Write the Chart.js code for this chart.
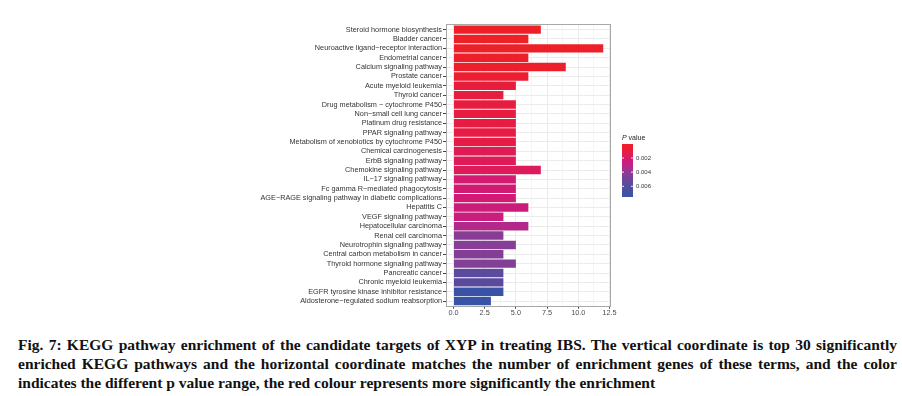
<!DOCTYPE html>
<html>
<head>
<meta charset="utf-8">
<script src="https://cdn.jsdelivr.net/npm/chart.js@4"></script>
<style>
  html, body { margin: 0; padding: 0; background: #fff; }
  body { width: 902px; height: 396px; position: relative; overflow: hidden; }
  #wrap { position: absolute; left: 0; top: 0; width: 902px; height: 325px; }
  #caption { position: absolute; left: 18px; top: 335px; width: 879px;
    font-family: "Liberation Serif", "Times New Roman", serif; font-weight: bold;
    font-size: 15.5px; line-height: 19px; color: #111; }
  #caption .j { text-align: justify; text-align-last: justify; white-space: nowrap; }
  #caption .l { text-align: left; white-space: nowrap; }
</style>
</head>
<body>
<div id="wrap"><canvas id="c" width="902" height="325"></canvas></div>
<div id="caption">
  <div class="j">Fig. 7: KEGG pathway enrichment of the candidate targets of XYP in treating IBS. The vertical coordinate is top 30 significantly</div>
  <div class="j">enriched KEGG pathways and the horizontal coordinate matches the number of enrichment genes of these terms, and the color</div>
  <div class="l">indicates the different p value range, the red colour represents more significantly the enrichment</div>
</div>
<script>
const categories = [
  "Steroid hormone biosynthesis",
  "Bladder cancer",
  "Neuroactive ligand\u2212receptor interaction",
  "Endometrial cancer",
  "Calcium signaling pathway",
  "Prostate cancer",
  "Acute myeloid leukemia",
  "Thyroid cancer",
  "Drug metabolism \u2212 cytochrome P450",
  "Non\u2212small cell lung cancer",
  "Platinum drug resistance",
  "PPAR signaling pathway",
  "Metabolism of xenobiotics by cytochrome P450",
  "Chemical carcinogenesis",
  "ErbB signaling pathway",
  "Chemokine signaling pathway",
  "IL\u221217 signaling pathway",
  "Fc gamma R\u2212mediated phagocytosis",
  "AGE\u2212RAGE signaling pathway in diabetic complications",
  "Hepatitis C",
  "VEGF signaling pathway",
  "Hepatocellular carcinoma",
  "Renal cell carcinoma",
  "Neurotrophin signaling pathway",
  "Central carbon metabolism in cancer",
  "Thyroid hormone signaling pathway",
  "Pancreatic cancer",
  "Chronic myeloid leukemia",
  "EGFR tyrosine kinase inhibitor resistance",
  "Aldosterone\u2212regulated sodium reabsorption"
];
const geneCounts = [7, 6, 12, 6, 9, 6, 5, 4, 5, 5, 5, 5, 5, 5, 5, 7, 5, 5, 5, 6, 4, 6, 4, 5, 4, 5, 4, 4, 4, 3];
const pValues = [0.00002, 0.00008, 0.00012, 0.00020, 0.00028, 0.00045, 0.00080, 0.00090, 0.00095, 0.00100,
                 0.00105, 0.00110, 0.00115, 0.00150, 0.00155, 0.00160, 0.00210, 0.00215, 0.00220, 0.00240,
                 0.00250, 0.00320, 0.00420, 0.00425, 0.00430, 0.00435, 0.00560, 0.00565, 0.00730, 0.00747];
const xTickValues = [0, 2.5, 5, 7.5, 10, 12.5];
const xTickLabels = ["0.0", "2.5", "5.0", "7.5", "10.0", "12.5"];
const xMinorValues = [1.25, 3.75, 6.25, 8.75, 11.25];
const legendTickValues = [0.002, 0.004, 0.006];
const legendTickLabels = ["0.002", "0.004", "0.006"];

const pMin = Math.min(...pValues), pMax = Math.max(...pValues);
const stops = [
  [0.00, [238, 32, 38]],
  [0.15, [230, 28, 69]],
  [0.30, [209, 26, 120]],
  [0.45, [174, 42, 142]],
  [0.57, [133, 62, 150]],
  [0.75, [91, 74, 157]],
  [1.00, [55, 83, 166]]
];
function colorAt(p) {
  let t = (p - pMin) / (pMax - pMin);
  t = Math.max(0, Math.min(1, t));
  for (let i = 1; i < stops.length; i++) {
    if (t <= stops[i][0]) {
      const [t0, c0] = stops[i - 1], [t1, c1] = stops[i];
      const f = (t - t0) / (t1 - t0);
      const c = c0.map((v, k) => Math.round(v + (c1[k] - v) * f));
      return `rgb(${c[0]},${c[1]},${c[2]})`;
    }
  }
  const c = stops[stops.length - 1][1];
  return `rgb(${c[0]},${c[1]},${c[2]})`;
}

const CANVAS_H = 325;
const AREA = { left: 446, right: 610.7, top: 24, bottom: 306.7 };
const tickFont = { family: "Liberation Sans, Arial, sans-serif", size: 7.3 };

const panelPlugin = {
  id: 'panel',
  afterDraw(chart) {
    const ctx = chart.ctx, a = chart.chartArea;
    ctx.save();
    ctx.strokeStyle = '#A8A8A8';
    ctx.lineWidth = 1;
    ctx.strokeRect(Math.round(a.left) + 0.5, Math.round(a.top) + 0.5,
                   Math.round(a.right - a.left) - 1, Math.round(a.bottom - a.top) - 1);
    // colorbar legend
    const bx = 622, bw = 11, by = 144, bh = 52.7;
    ctx.font = 'italic 7px "Liberation Sans", Arial, sans-serif';
    ctx.fillStyle = '#222';
    ctx.textBaseline = 'alphabetic';
    ctx.textAlign = 'left';
    ctx.fillText('P', bx, 139.5);
    const pw = ctx.measureText('P').width;
    ctx.font = '7px "Liberation Sans", Arial, sans-serif';
    ctx.fillText(' value', bx + pw, 139.5);
    for (let i = 0; i < Math.ceil(bh); i++) {
      const p = pMin + (pMax - pMin) * (i / bh);
      ctx.fillStyle = colorAt(p);
      ctx.fillRect(bx, by + i, bw, 1);
    }
    ctx.font = '6px "Liberation Sans", Arial, sans-serif';
    ctx.textBaseline = 'middle';
    legendTickValues.forEach((v, i) => {
      const y = by + (v - pMin) / (pMax - pMin) * bh;
      ctx.strokeStyle = 'rgba(255,255,255,0.9)';
      ctx.beginPath();
      ctx.moveTo(bx, y); ctx.lineTo(bx + 2, y);
      ctx.moveTo(bx + bw - 2, y); ctx.lineTo(bx + bw, y);
      ctx.stroke();
      ctx.fillStyle = '#333';
      ctx.fillText(legendTickLabels[i], bx + bw + 3, y);
    });
    ctx.restore();
  }
};

new Chart(document.getElementById('c'), {
  type: 'bar',
  data: {
    datasets: [{
      data: geneCounts.map((v, i) => ({ x: v, y: i })),
      backgroundColor: pValues.map(colorAt),
      borderWidth: 0,
      barPercentage: 0.9,
      categoryPercentage: 1.0
    }]
  },
  options: {
    indexAxis: 'y',
    responsive: false,
    animation: false,
    layout: { padding: { left: 0, right: 902 - AREA.right, top: AREA.top, bottom: 0 } },
    plugins: { legend: { display: false }, tooltip: { enabled: false } },
    scales: {
      x: {
        type: 'linear', min: -0.6, max: 12.6,
        afterBuildTicks: s => { s.ticks = [...xTickValues, ...xMinorValues].sort((a, b) => a - b).map(v => ({ value: v })); },
        afterFit: s => { s.height = CANVAS_H - AREA.bottom; s.paddingLeft = 0; s.paddingRight = 0; },
        ticks: {
          autoSkip: false, maxRotation: 0, padding: 0, font: tickFont, color: '#4D4D4D',
          callback: v => { const i = xTickValues.indexOf(v); return i >= 0 ? xTickLabels[i] : ''; }
        },
        grid: {
          color: c => xTickValues.includes(c.tick && c.tick.value) ? '#EBEBEB' : '#F5F5F5',
          tickColor: c => xTickValues.includes(c.tick && c.tick.value) ? '#444' : 'rgba(0,0,0,0)',
          tickLength: 2, lineWidth: 1
        },
        border: { display: false }
      },
      y: {
        type: 'linear', min: -0.6, max: categories.length - 1 + 0.6, reverse: true, offset: false,
        afterBuildTicks: s => { s.ticks = categories.map((_, i) => ({ value: i })); },
        afterFit: s => { s.width = AREA.left; s.paddingTop = 0; s.paddingBottom = 0; },
        ticks: {
          autoSkip: false, padding: 1, font: tickFont, color: '#333',
          callback: v => categories[v]
        },
        grid: { offset: false, color: '#EBEBEB', tickColor: '#444', tickLength: 3, lineWidth: 1 },
        border: { display: false }
      }
    }
  },
  plugins: [panelPlugin]
});
</script>
</body>
</html>
